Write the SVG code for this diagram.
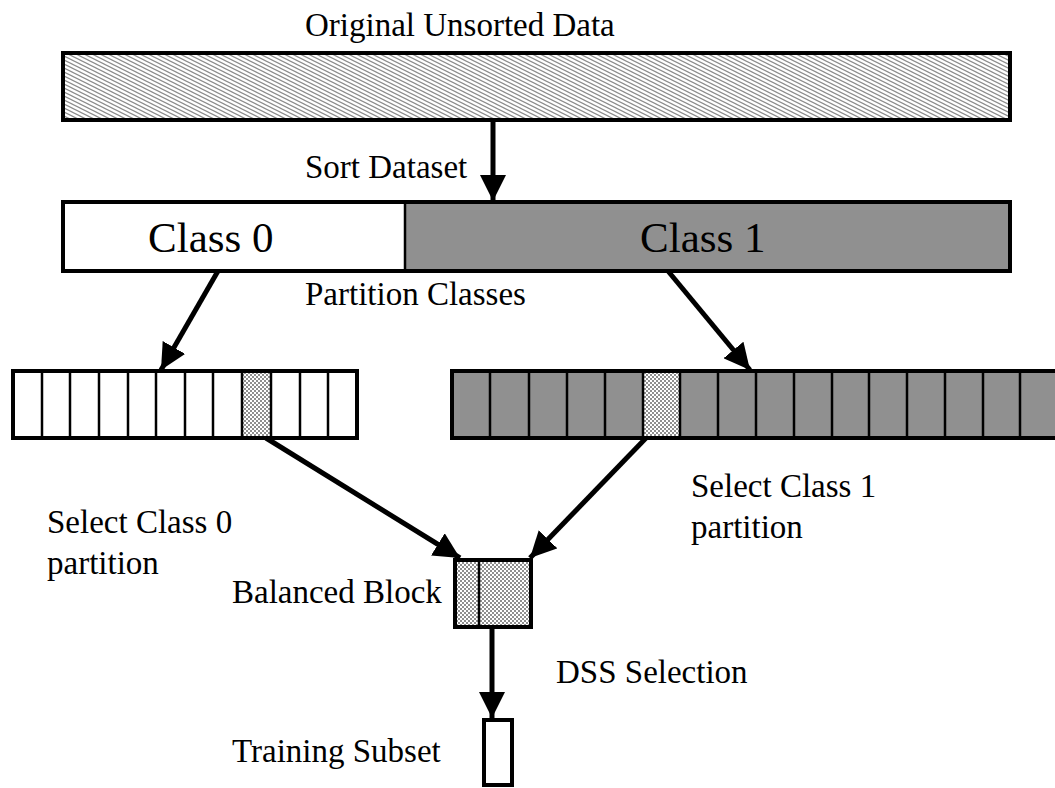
<svg xmlns="http://www.w3.org/2000/svg" width="1055" height="788" viewBox="0 0 1055 788">
  <defs>
    <!-- light diagonal hatch for the unsorted data bar -->
    <pattern id="hatch" width="8" height="4" patternUnits="userSpaceOnUse">
      <rect width="8" height="4" fill="#ffffff"/>
      <path d="M-8,-4 L16,8 M-8,0 L8,8 M0,-4 L16,4" stroke="#8c8c8c" stroke-width="1.2"/>
    </pattern>
    <!-- fine checker for the selected partitions -->
    <pattern id="checker" width="4" height="4" patternUnits="userSpaceOnUse">
      <rect width="4" height="4" fill="#ffffff"/>
      <rect width="2" height="2" fill="#8f8f8f"/>
      <rect x="2" y="2" width="2" height="2" fill="#8f8f8f"/>
    </pattern>
    <marker id="arrow" markerWidth="26" markerHeight="26" viewBox="0 0 26 26" refX="26" refY="13" orient="auto" markerUnits="userSpaceOnUse">
      <path d="M0,0 L26,13 L0,26 Z" fill="#000"/>
    </marker>
    <style>
      text { font-family: 'Liberation Serif', 'Times New Roman', serif; fill: #000; }
      .lbl { font-size: 33px; }
      .big { font-size: 43px; }
      .box { stroke: #000; stroke-width: 4; }
      .cell { stroke: #000; stroke-width: 2.5; }
      .conn { stroke: #000; stroke-width: 5; fill: none; marker-end: url(#arrow); }
    </style>
  </defs>

  <rect width="1055" height="788" fill="#ffffff"/>

  <!-- unsorted data -->
  <g id="unsorted">
    <rect class="box" x="63" y="53" width="947" height="67" fill="url(#hatch)"/>
    <text class="lbl" x="305" y="36">Original Unsorted Data</text>
  </g>

  <!-- sorted classes -->
  <g id="sorted">
    <rect x="63" y="202" width="342" height="69" fill="#ffffff"/>
    <rect x="405" y="202" width="605" height="69" fill="#909090"/>
    <rect class="box" x="63" y="202" width="947" height="69" fill="none"/>
    <line x1="405" y1="202" x2="405" y2="271" stroke="#000" stroke-width="2.5"/>
    <text class="big" x="148" y="252">Class 0</text>
    <text class="big" x="640" y="252">Class 1</text>
  </g>

  <!-- class 0 partitions -->
  <g id="class0-partitions">
    <rect x="13" y="371" width="344" height="67" fill="#ffffff"/>
    <rect x="242" y="371" width="29" height="67" fill="url(#checker)"/>
    <g class="cell">
      <line x1="42" y1="371" x2="42" y2="438"/>
      <line x1="70" y1="371" x2="70" y2="438"/>
      <line x1="99" y1="371" x2="99" y2="438"/>
      <line x1="128" y1="371" x2="128" y2="438"/>
      <line x1="156" y1="371" x2="156" y2="438"/>
      <line x1="185" y1="371" x2="185" y2="438"/>
      <line x1="213" y1="371" x2="213" y2="438"/>
      <line x1="242" y1="371" x2="242" y2="438"/>
      <line x1="271" y1="371" x2="271" y2="438"/>
      <line x1="300" y1="371" x2="300" y2="438"/>
      <line x1="328" y1="371" x2="328" y2="438"/>
    </g>
    <rect class="box" x="13" y="371" width="344" height="67" fill="none"/>
  </g>

  <!-- class 1 partitions -->
  <g id="class1-partitions">
    <rect x="452" y="371" width="610" height="67" fill="#909090"/>
    <rect x="643" y="371" width="37" height="67" fill="url(#checker)"/>
    <g class="cell">
      <line x1="490" y1="371" x2="490" y2="438"/>
      <line x1="529" y1="371" x2="529" y2="438"/>
      <line x1="567" y1="371" x2="567" y2="438"/>
      <line x1="605" y1="371" x2="605" y2="438"/>
      <line x1="643" y1="371" x2="643" y2="438"/>
      <line x1="680" y1="371" x2="680" y2="438"/>
      <line x1="718" y1="371" x2="718" y2="438"/>
      <line x1="756" y1="371" x2="756" y2="438"/>
      <line x1="794" y1="371" x2="794" y2="438"/>
      <line x1="832" y1="371" x2="832" y2="438"/>
      <line x1="869" y1="371" x2="869" y2="438"/>
      <line x1="907" y1="371" x2="907" y2="438"/>
      <line x1="945" y1="371" x2="945" y2="438"/>
      <line x1="983" y1="371" x2="983" y2="438"/>
      <line x1="1020" y1="371" x2="1020" y2="438"/>
    </g>
    <rect class="box" x="452" y="371" width="610" height="67" fill="none"/>
  </g>

  <!-- balanced block -->
  <g id="balanced-block">
    <rect class="box" x="455" y="560" width="76" height="67" fill="url(#checker)"/>
    <line x1="479" y1="560" x2="479" y2="627" stroke="#000" stroke-width="2.5"/>
    <text class="lbl" x="232" y="603">Balanced Block</text>
  </g>

  <!-- training subset -->
  <g id="training-subset">
    <rect class="box" x="484" y="720" width="28" height="65" fill="#ffffff"/>
    <text class="lbl" x="232" y="762">Training Subset</text>
  </g>

  <!-- connectors -->
  <g id="connectors">
    <line class="conn" x1="493" y1="120" x2="493" y2="201"/>
    <line class="conn" x1="218" y1="271" x2="161" y2="370"/>
    <line class="conn" x1="668" y1="271" x2="750" y2="370"/>
    <line class="conn" x1="266" y1="438" x2="460" y2="558"/>
    <line class="conn" x1="646" y1="438" x2="530" y2="558"/>
    <line class="conn" x1="492" y1="627" x2="492" y2="718"/>
  </g>

  <!-- step labels -->
  <g id="labels">
    <text class="lbl" x="305" y="178">Sort Dataset</text>
    <text class="lbl" x="305" y="305">Partition Classes</text>
    <text class="lbl" x="47" y="533">Select Class 0</text>
    <text class="lbl" x="47" y="574">partition</text>
    <text class="lbl" x="691" y="497">Select Class 1</text>
    <text class="lbl" x="691" y="538">partition</text>
    <text class="lbl" x="556" y="683">DSS Selection</text>
  </g>
</svg>
